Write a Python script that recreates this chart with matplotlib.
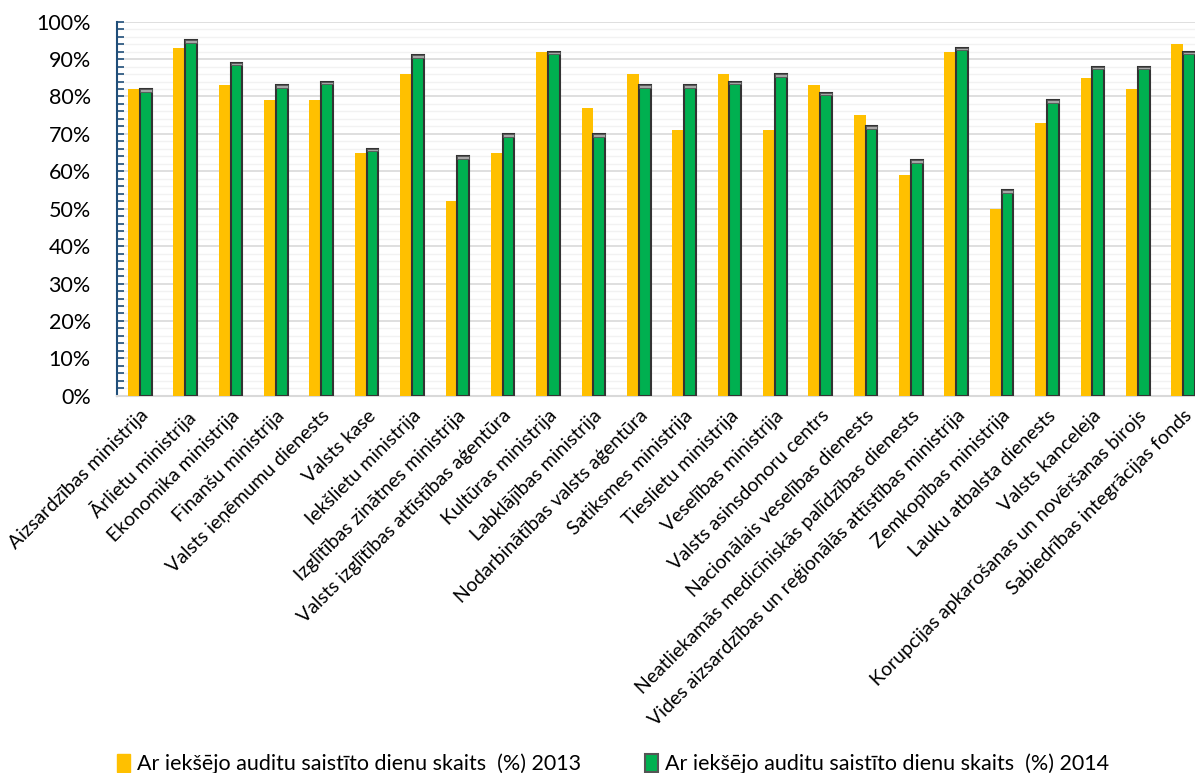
import numpy as np
import matplotlib.pyplot as plt
from matplotlib.ticker import MultipleLocator, PercentFormatter

plt.rcParams['font.family'] = ['Lato', 'DejaVu Sans']

# institutions (x axis)
iestades = [
    "Aizsardzības ministrija", "Ārlietu ministrija", "Ekonomika ministrija",
    "Finanšu ministrija", "Valsts ieņēmumu dienests", "Valsts kase",
    "Iekšlietu ministrija", "Izglītības zinātnes ministrija",
    "Valsts izglītības attīstības aģentūra", "Kultūras ministrija",
    "Labklājības ministrija", "Nodarbinātības valsts aģentūra",
    "Satiksmes ministrija", "Tieslietu ministrija", "Veselības ministrija",
    "Valsts asinsdonoru centrs", "Nacionālais veselības dienests",
    "Neatliekamās medicīniskās palīdzības dienests",
    "Vides aizsardzības un reģionālās attīstības ministrija",
    "Zemkopības ministrija", "Lauku atbalsta dienests", "Valsts kanceleja",
    "Korupcijas apkarošanas un novēršanas birojs",
    "Sabiedrības integrācijas fonds",
]

# share of days (%)
v2013 = [82, 93, 83, 79, 79, 65, 86, 52, 65, 92, 77, 86,
         71, 86, 71, 83, 75, 59, 92, 50, 73, 85, 82, 94]
v2014 = [82, 95, 89, 83, 84, 66, 91, 64, 70, 92, 70, 83,
         83, 84, 86, 81, 72, 63, 93, 55, 79, 88, 88, 92]

label13 = "Ar iekšējo auditu saistīto dienu skaits  (%) 2013"
label14 = "Ar iekšējo auditu saistīto dienu skaits  (%) 2014"

fig = plt.figure(figsize=(11.95, 7.73), dpi=100)
ax = fig.add_axes([0.098, 0.488, 0.911, 0.484])

x = np.arange(len(iestades))
w = 0.26

ax.bar(x - w / 2, v2013, w, color='#FFC000', zorder=3)
ax.bar(x + w / 2, v2014, w, color='#00B050', edgecolor='#333333',
       linewidth=1.5, zorder=3)
# light top cap on the green bars
cap = 0.7
ax.bar(x + w / 2, [cap] * len(x), w, bottom=np.array(v2014) - cap,
       color='#A6A6A6', edgecolor='#555555', linewidth=0.6, zorder=4)

ax.set_xlim(-0.5, len(iestades) - 0.5)
ax.set_ylim(0, 100)
ax.yaxis.set_major_locator(MultipleLocator(10))
ax.yaxis.set_minor_locator(MultipleLocator(2))
ax.yaxis.set_major_formatter(PercentFormatter(decimals=0))
ax.grid(axis='y', which='major', color='#D9D9D9', linewidth=1.2, zorder=0)
ax.grid(axis='y', which='minor', color='#F2F2F2', linewidth=1.0, zorder=0)
ax.set_axisbelow(True)

for s in ['top', 'right']:
    ax.spines[s].set_visible(False)
ax.spines['left'].set_color('#1F4E79')
ax.spines['left'].set_linewidth(1.5)
ax.spines['bottom'].set_color('#D9D9D9')
ax.spines['bottom'].set_linewidth(1.5)

ax.tick_params(axis='y', which='both', direction='in', color='#1F4E79',
               width=1.2, labelsize=15.5, pad=19)
ax.tick_params(axis='y', which='major', length=5)
ax.tick_params(axis='y', which='minor', length=5)
ax.tick_params(axis='x', length=0, pad=8)

ax.set_xticks(x)
ax.set_xticklabels(iestades, rotation=45, ha='right', va='top',
                   rotation_mode='anchor', fontsize=14)

h1 = plt.Rectangle((0, 0), 1, 1, color='#FFC000')
h2 = plt.Rectangle((0, 0), 1, 1, facecolor='#00B050', edgecolor='#555555',
                   linewidth=1.5)
fig.legend([h1, h2], [label13, label14], loc='lower left',
           bbox_to_anchor=(0.082, -0.027), ncol=2, frameon=False,
           fontsize=15.5, handlelength=0.6, handleheight=0.9,
           handletextpad=0.3, columnspacing=3.0)

fig.savefig('out.png', dpi=100)
